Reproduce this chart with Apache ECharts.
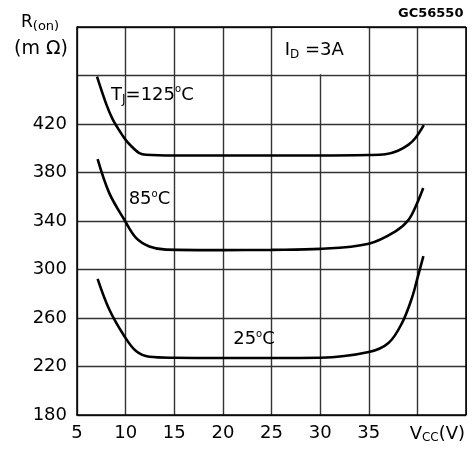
<!DOCTYPE html>
<html><head><meta charset="utf-8">
<script src="https://cdn.jsdelivr.net/npm/echarts@6/dist/echarts.min.js"></script>
<style>html,body{margin:0;padding:0;background:#fff}#c{width:472px;height:449px}</style>
</head><body><div id="c"></div>
<script>
const xTicks = [5,10,15,20,25,30,35,40,45];
const yTicks = [180,220,260,300,340,380,420];
const curve125 = [[7.06,459],[7.98,437],[8.66,424],[9.4,414],[10.04,406.5],[10.8,400],[11.41,396],[12.1,394.6],[15,394],[20,394],[25,394],[30,394],[35,394.4],[36.7,395],[38,398],[39.1,403],[39.8,408.4],[40.66,419]];
const curve85 = [[7.12,391],[8.32,363],[9.87,341],[11.07,326],[12.44,319],[14.16,316.4],[20,316],[25,316.2],[30,317],[35,321.3],[37.75,331.5],[39.1,341],[39.98,354.8],[40.6,367.2]];
const curve25 = [[7.12,292.3],[8.32,267],[9.87,245],[11.07,232.7],[12.44,228],[15,227.2],[20,227],[25,227],[30,227.2],[35,231.9],[37.06,239.6],[38.43,256],[39.46,277],[39.98,292],[40.62,311]];
const annotations = [
  {text:'T{sub|J}=125{deg|o}C', coord:[8.5,444], align:'left'},
  {text:'85{deg|o}C', coord:[12.45,357.6], align:'center'},
  {text:'25{deg|o}C', coord:[23.2,242], align:'center'},
  {text:'I{sub|D} =3A', coord:[29.4,481], align:'center'}
];
const FONT = 'DejaVu Sans';
const chart = echarts.init(document.getElementById('c'));
const lineStyle = {color:'#000', width:2.6};
function mk(data, extra){
  return Object.assign({type:'line', data, smooth:0.35, showSymbol:false, symbol:'none', lineStyle, z:5}, extra||{});
}
chart.setOption({
  backgroundColor:'#fff',
  animation:false,
  grid:{left:77, right:6, top:27, bottom:34},
  xAxis:{type:'value', min:5, max:45, interval:5,
    axisLine:{show:true, lineStyle:{color:'#000', width:1.5}},
    axisTick:{show:false},
    splitLine:{show:true, lineStyle:{color:'#333', width:1.4}},
    axisLabel:{fontFamily:FONT, fontSize:18, color:'#000', margin:9,
      formatter:v=> v===45 ? '' : (v===40 ? '{p|V}{s|CC}{a|(V)}' : String(v)),
      rich:{p:{fontFamily:FONT, fontSize:18, color:'#000', padding:[0,0,0,40]},
            a:{fontFamily:FONT, fontSize:18, color:'#000'},
            s:{fontFamily:FONT, fontSize:12, color:'#000', padding:[8,0,0,0]}}
    }
  },
  yAxis:{type:'value', min:180, max:500, interval:40,
    axisLine:{show:true, lineStyle:{color:'#000', width:1.5}},
    axisTick:{show:false},
    splitLine:{show:true, lineStyle:{color:'#333', width:1.4}},
    axisLabel:{fontFamily:FONT, fontSize:18, color:'#000', margin:10,
      formatter:v=> v>420 ? '' : String(v)}
  },
  graphic:[
    {type:'text', left:21, top:14, style:{text:'R{s|(on)}', fontFamily:FONT, fontSize:17, fill:'#000',
      rich:{s:{fontFamily:FONT, fontSize:13, fill:'#000', padding:[9,0,0,0]}}}},
    {type:'text', left:14, top:40, style:{text:'(m Ω)', fontFamily:FONT, fontSize:19, fill:'#000'}},
    {type:'text', left:398, top:7, style:{text:'GC56550', fontFamily:FONT, fontSize:13, fontWeight:'bold', fill:'#000'}},
    {type:'rect', right:0, top:27, shape:{width:5, height:390}, style:{fill:'#fff'}, z:10},
    {type:'line', shape:{x1:466, y1:27, x2:466, y2:415}, style:{stroke:'#000', lineWidth:1.5}, z:11},
    {type:'line', shape:{x1:77, y1:27, x2:466, y2:27}, style:{stroke:'#000', lineWidth:1.5}, z:11}
  ],
  series:[
    mk(curve125, {
      markArea:{silent:true, itemStyle:{color:'#fff', opacity:1}, data:[[{coord:[25.2,461]},{coord:[34.8,499.2]}]]}
    }),
    mk(curve85),
    mk(curve25),
    {type:'scatter', data:[], z:6,
      markPoint:{symbol:'circle', symbolSize:0, silent:true,
        data: annotations.map(a=>({coord:a.coord, label:{show:true, formatter:a.text, position:'inside', align:a.align,
          fontFamily:FONT, fontSize:18, color:'#000',
          rich:{sub:{fontFamily:FONT, fontSize:12, color:'#000', padding:[9,0,0,0]},
                deg:{fontFamily:FONT, fontSize:10, color:'#000', padding:[0,0,10,0]}}}}))
      }
    }
  ]
});
</script></body></html>
